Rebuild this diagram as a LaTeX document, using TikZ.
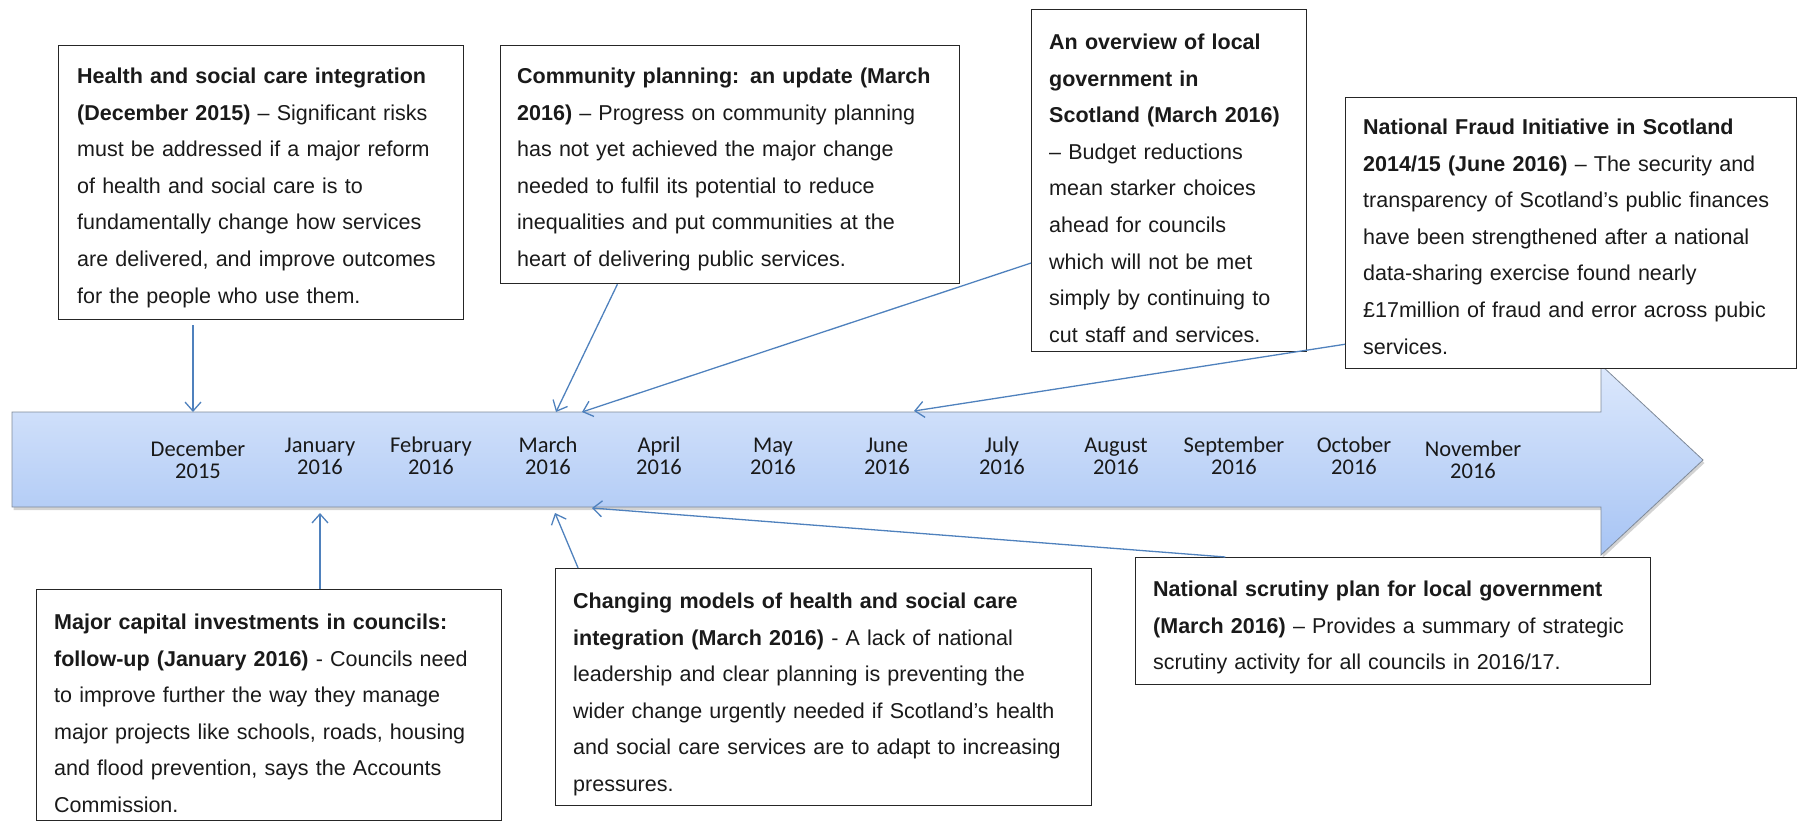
\documentclass[tikz,border=0pt]{standalone}
\usepackage{fontspec}
\setmainfont{Liberation Sans}
\newfontfamily\monthfont{Carlito}
\usetikzlibrary{arrows.meta,calc,shadows}

\definecolor{conncol}{HTML}{4F81BD}
\definecolor{bodytext}{HTML}{1A1A1A}
\definecolor{bandtop}{HTML}{DCE8FC}
\definecolor{bandbot}{HTML}{A7C4F4}
\definecolor{bandline}{HTML}{7F8A99}

\begin{document}
\begin{tikzpicture}[x=1pt,y=-1pt,
  infobox/.style={draw=black!85, line width=1.3pt, fill=white, inner sep=0pt, anchor=north west},
  infotext/.style={anchor=base west, inner sep=0pt, align=left, text=bodytext,
                   font=\fontsize{21.5}{36.6}\selectfont},
  month/.style={align=center, inner sep=0pt, text=black!90,
                font=\monthfont\fontsize{22.5}{22}\selectfont},
  conn/.style={draw=conncol, line width=1.3pt, -{Straight Barb[length=9pt,width=16pt]}},
]
\useasboundingbox (0,0) rectangle (1798,822);

% timeline band with its arrow head
\shade[top color=bandtop, bottom color=bandbot, draw=bandline, line width=0.8pt,
       drop shadow={shadow xshift=1.5pt, shadow yshift=-3pt, opacity=0.35}]
  (12,412) -- (1601,412) -- (1601,365) -- (1703,460) -- (1601,555)
  -- (1601,507) -- (12,507) -- cycle;

% months
\node[month] (m01) at (198,460) {December\\2015};
\node[month] (m02) at (320,456) {January\\2016};
\node[month] (m03) at (431,456) {February\\2016};
\node[month] (m04) at (548,456) {March\\2016};
\node[month] (m05) at (659,456) {April\\2016};
\node[month] (m06) at (773,456) {May\\2016};
\node[month] (m07) at (887,456) {June\\2016};
\node[month] (m08) at (1002,456) {July\\2016};
\node[month] (m09) at (1116,456) {August\\2016};
\node[month] (m10) at (1234,456) {September\\2016};
\node[month] (m11) at (1354,456) {October\\2016};
\node[month] (m12) at (1473,460) {November\\2016};

% report boxes
\node[infobox, minimum width=405, minimum height=274] (hsc) at (58,45) {};
\node[infotext, text width=387] (hsct) at ([xshift=19pt,yshift=-38.5pt]hsc.north west)
  {\textbf{Health and social care integration}\\
   \textbf{(December 2015)} – Significant risks\\
   must be addressed if a major reform\\
   of health and social care is to\\
   fundamentally change how services\\
   are delivered, and improve outcomes\\
   for the people who use them.};

\node[infobox, minimum width=459, minimum height=238] (cp) at (500,45) {};
\node[infotext, text width=441] (cpt) at ([xshift=17pt,yshift=-38.5pt]cp.north west)
  {\textbf{Community planning: an update (March}\\
   \textbf{2016)} – Progress on community planning\\
   has not yet achieved the major change\\
   needed to fulfil its potential to reduce\\
   inequalities and put communities at the\\
   heart of delivering public services.};

\node[infobox, minimum width=275, minimum height=342] (ov) at (1031,9) {};
\node[infotext, text width=257] (ovt) at ([xshift=18pt,yshift=-40.5pt]ov.north west)
  {\textbf{An overview of local}\\
   \textbf{government in}\\
   \textbf{Scotland (March 2016)}\\
   – Budget reductions\\
   mean starker choices\\
   ahead for councils\\
   which will not be met\\
   simply by continuing to\\
   cut staff and services.};

\node[infobox, minimum width=451, minimum height=271] (nfi) at (1345,97) {};
\node[infotext, text width=433] (nfit) at ([xshift=18pt,yshift=-37.5pt]nfi.north west)
  {\textbf{National Fraud Initiative in Scotland}\\
   \textbf{2014/15 (June 2016)} – The security and\\
   transparency of Scotland’s public finances\\
   have been strengthened after a national\\
   data-sharing exercise found nearly\\
   £17million of fraud and error across pubic\\
   services.};

\node[infobox, minimum width=465, minimum height=231] (mci) at (36,589) {};
\node[infotext, text width=447] (mcit) at ([xshift=18pt,yshift=-40.5pt]mci.north west)
  {\textbf{Major capital investments in councils:}\\
   \textbf{follow-up (January 2016)} - Councils need\\
   to improve further the way they manage\\
   major projects like schools, roads, housing\\
   and flood prevention, says the Accounts\\
   Commission.};

\node[infobox, minimum width=536, minimum height=237] (cm) at (555,568) {};
\node[infotext, text width=518] (cmt) at ([xshift=18pt,yshift=-40.5pt]cm.north west)
  {\textbf{Changing models of health and social care}\\
   \textbf{integration (March 2016)} - A lack of national\\
   leadership and clear planning is preventing the\\
   wider change urgently needed if Scotland’s health\\
   and social care services are to adapt to increasing\\
   pressures.};

\node[infobox, minimum width=515, minimum height=127] (nsp) at (1135,557) {};
\node[infotext, text width=497] (nspt) at ([xshift=18pt,yshift=-39.5pt]nsp.north west)
  {\textbf{National scrutiny plan for local government}\\
   \textbf{(March 2016)} – Provides a summary of strategic\\
   scrutiny activity for all councils in 2016/17.};

% points on the band that the reports refer to
\coordinate (tDec)  at (193,412);
\coordinate (tMarA) at (556,412);
\coordinate (tMarB) at (582,412);
\coordinate (tJun)  at (914,411);
\coordinate (tJan)  at (320,513);
\coordinate (tMarC) at (555,513);
\coordinate (tMarD) at (592,508);

% connectors
\draw[conn, shorten <=5pt] (hsc.south -| tDec) -- (tDec);
\draw[conn] ($(cp.south west)!0.255!(cp.south east)$) -- (tMarA);
\draw[conn] ($(ov.north west)!0.74!(ov.south west)$) -- (tMarB);
\draw[conn] ($(nfi.north west)!0.908!(nfi.south west)$) -- (tJun);
\draw[conn] (mci.north -| tJan) -- (tJan);
\draw[conn] ($(cm.north west)!0.043!(cm.north east)$) -- (tMarC);
\draw[conn] ($(nsp.north west)!0.175!(nsp.north east)$) -- (tMarD);
\end{tikzpicture}
\end{document}
